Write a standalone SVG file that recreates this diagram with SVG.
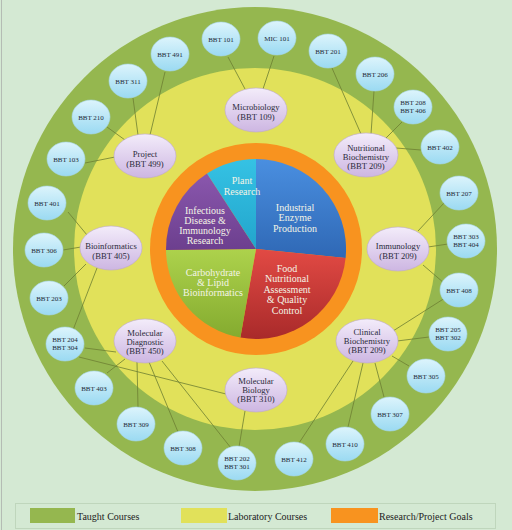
<svg xmlns="http://www.w3.org/2000/svg" width="512" height="530" viewBox="0 0 512 530">
<defs>
<linearGradient id="gBlue" x1="0" y1="0" x2="0" y2="1"><stop offset="0" stop-color="#dcf4fc"/><stop offset="1" stop-color="#9bdaf2"/></linearGradient>
<linearGradient id="gLab" x1="0" y1="0" x2="0" y2="1"><stop offset="0" stop-color="#f3ecfa"/><stop offset="1" stop-color="#cdb6e2"/></linearGradient>
<linearGradient id="pBlue" x1="0" y1="0" x2="0" y2="1"><stop offset="0" stop-color="#4a8fe0"/><stop offset="1" stop-color="#2f68b5"/></linearGradient>
<linearGradient id="pRed" x1="0" y1="0" x2="0" y2="1"><stop offset="0" stop-color="#e24a44"/><stop offset="1" stop-color="#a92a2a"/></linearGradient>
<linearGradient id="pGreen" x1="0" y1="0" x2="0" y2="1"><stop offset="0" stop-color="#add24c"/><stop offset="1" stop-color="#84ab2f"/></linearGradient>
<linearGradient id="pPurple" x1="0" y1="0" x2="0" y2="1"><stop offset="0" stop-color="#8a57ad"/><stop offset="1" stop-color="#6c3f8e"/></linearGradient>
<linearGradient id="pCyan" x1="0" y1="0" x2="0" y2="1"><stop offset="0" stop-color="#35c2e4"/><stop offset="1" stop-color="#22a5cc"/></linearGradient>
</defs>
<style>
.t{fill:url(#gBlue);stroke:#a6d6ea;stroke-width:0.6}
.l{fill:url(#gLab);stroke:#bca6d4;stroke-width:0.6}
.tt{font-family:"Liberation Serif","DejaVu Serif",serif;font-size:7px;fill:#1e2a38;text-anchor:middle}
.lt{font-family:"Liberation Serif","DejaVu Serif",serif;font-size:8.6px;fill:#2a2a3a;text-anchor:middle}
.pt{font-family:"Liberation Serif","DejaVu Serif",serif;font-size:10px;fill:#f4f4e6;text-anchor:middle}
.gt{font-family:"Liberation Serif","DejaVu Serif",serif;font-size:10px;fill:#222;}
.c{stroke:#6d7f32;stroke-width:0.8;fill:none}
</style>
<rect x="0" y="0" width="512" height="530" fill="#d4e9d3"/>
<line x1="1.5" y1="0" x2="1.5" y2="530" stroke="#b4bcb4" stroke-width="1"/>
<g id="rings">
<circle cx="255" cy="249" r="242" fill="#95b74f"/>
<circle cx="255" cy="249" r="181" fill="#e1e15a"/>
<circle cx="256" cy="249" r="106" fill="#f8931f"/>
</g>
<g id="pie">
<path d="M256,249 L256,159 A90,90 0 0 1 345.6,257.9 Z" fill="url(#pBlue)"/>
<path d="M256,249 L345.6,257.9 A90,90 0 0 1 240.4,337.6 Z" fill="url(#pRed)"/>
<path d="M256,249 L240.4,337.6 A90,90 0 0 1 166,250 Z" fill="url(#pGreen)"/>
<path d="M256,249 L166,250 A90,90 0 0 1 207,173.5 Z" fill="url(#pPurple)"/>
<path d="M256,249 L207,173.5 A90,90 0 0 1 256,159 Z" fill="url(#pCyan)"/>
<text class="pt"><tspan x="295" y="210.5">Industrial</tspan><tspan x="295" y="221">Enzyme</tspan><tspan x="295" y="231.5">Production</tspan></text>
<text class="pt"><tspan x="242" y="183.5">Plant</tspan><tspan x="242" y="194.5">Research</tspan></text>
<text class="pt"><tspan x="205" y="213.5">Infectious</tspan><tspan x="205" y="223.5">Disease &amp;</tspan><tspan x="205" y="233.5">Immunology</tspan><tspan x="205" y="243.5">Research</tspan></text>
<text class="pt"><tspan x="213" y="275.5">Carbohydrate</tspan><tspan x="213" y="285.5">&amp; Lipid</tspan><tspan x="213" y="295.5">Bioinformatics</tspan></text>
<text class="pt"><tspan x="287" y="271.5">Food</tspan><tspan x="287" y="282">Nutritional</tspan><tspan x="287" y="292.5">Assessment</tspan><tspan x="287" y="303">&amp; Quality</tspan><tspan x="287" y="313.5">Control</tspan></text>
</g>
<g id="connectors">
<line class="c" x1="228" y1="57" x2="245" y2="89"/>
<line class="c" x1="274" y1="56" x2="263" y2="89"/>
<line class="c" x1="165" y1="72" x2="150" y2="135"/>
<line class="c" x1="133" y1="98" x2="138" y2="135"/>
<line class="c" x1="107" y1="127" x2="125" y2="140"/>
<line class="c" x1="85" y1="163" x2="115" y2="157"/>
<line class="c" x1="332" y1="68" x2="361" y2="134"/>
<line class="c" x1="374" y1="91" x2="371" y2="134"/>
<line class="c" x1="402" y1="122" x2="386" y2="138"/>
<line class="c" x1="421" y1="150" x2="396" y2="148"/>
<line class="c" x1="68" y1="212" x2="87" y2="235"/>
<line class="c" x1="63" y1="250" x2="81" y2="247"/>
<line class="c" x1="64" y1="286" x2="86" y2="264"/>
<line class="c" x1="73" y1="330" x2="97" y2="268"/>
<line class="c" x1="444" y1="203" x2="418" y2="231"/>
<line class="c" x1="448" y1="244" x2="428" y2="247"/>
<line class="c" x1="444" y1="283" x2="423" y2="265"/>
<line class="c" x1="445" y1="298" x2="393" y2="331"/>
<line class="c" x1="429" y1="337" x2="397" y2="341"/>
<line class="c" x1="409" y1="366" x2="392" y2="356"/>
<line class="c" x1="384" y1="397" x2="375" y2="363"/>
<line class="c" x1="348" y1="427" x2="363" y2="363"/>
<line class="c" x1="299" y1="443" x2="353" y2="361"/>
<line class="c" x1="85" y1="348" x2="116" y2="352"/>
<line class="c" x1="79" y1="357" x2="226" y2="394"/>
<line class="c" x1="107" y1="373" x2="125" y2="359"/>
<line class="c" x1="138" y1="407" x2="137" y2="362"/>
<line class="c" x1="178" y1="432" x2="149" y2="362"/>
<line class="c" x1="231" y1="448" x2="162" y2="361"/>
<line class="c" x1="239" y1="447" x2="245" y2="411"/>
</g>
<g id="lab-microbiology"><ellipse class="l" cx="256" cy="110" rx="31" ry="22"/><text class="lt"><tspan x="256" y="110">Microbiology</tspan><tspan x="256" y="119.5">(BBT 109)</tspan></text></g>
<g id="lab-project"><ellipse class="l" cx="145" cy="156" rx="31" ry="22"/><text class="lt"><tspan x="145" y="157">Project</tspan><tspan x="145" y="166.5">(BBT 499)</tspan></text></g>
<g id="lab-nutritional"><ellipse class="l" cx="366" cy="155" rx="32" ry="22"/><text class="lt"><tspan x="366" y="151">Nutritional</tspan><tspan x="366" y="160">Biochemistry</tspan><tspan x="366" y="169">(BBT 209)</tspan></text></g>
<g id="lab-bioinformatics"><ellipse class="l" cx="111" cy="248" rx="31" ry="22"/><text class="lt"><tspan x="111" y="249">Bioinformatics</tspan><tspan x="111" y="258.5">(BBT 405)</tspan></text></g>
<g id="lab-immunology"><ellipse class="l" cx="398" cy="249" rx="31" ry="22"/><text class="lt"><tspan x="398" y="249">Immunology</tspan><tspan x="398" y="258.5">(BBT 209)</tspan></text></g>
<g id="lab-moldiag"><ellipse class="l" cx="145" cy="341" rx="31" ry="22"/><text class="lt"><tspan x="145" y="336">Molecular</tspan><tspan x="145" y="345">Diagnostic</tspan><tspan x="145" y="354">(BBT 450)</tspan></text></g>
<g id="lab-clinical"><ellipse class="l" cx="367" cy="341" rx="31" ry="22"/><text class="lt"><tspan x="367" y="335">Clinical</tspan><tspan x="367" y="344">Biochemistry</tspan><tspan x="367" y="353">(BBT 209)</tspan></text></g>
<g id="lab-molbio"><ellipse class="l" cx="256" cy="390" rx="31" ry="22"/><text class="lt"><tspan x="256" y="384">Molecular</tspan><tspan x="256" y="393">Biology</tspan><tspan x="256" y="402">(BBT 310)</tspan></text></g>
<g id="bbt101"><ellipse class="t" cx="221" cy="39" rx="19" ry="17"/><text class="tt" x="221" y="41.5">BBT 101</text></g>
<g id="mic101"><ellipse class="t" cx="277" cy="38" rx="19" ry="17"/><text class="tt" x="277" y="40.5">MIC 101</text></g>
<g id="bbt491"><ellipse class="t" cx="170" cy="54" rx="19" ry="17"/><text class="tt" x="170" y="56.5">BBT 491</text></g>
<g id="bbt311"><ellipse class="t" cx="128" cy="81" rx="19" ry="17"/><text class="tt" x="128" y="83.5">BBT 311</text></g>
<g id="bbt210"><ellipse class="t" cx="91" cy="117" rx="19" ry="17"/><text class="tt" x="91" y="119.5">BBT 210</text></g>
<g id="bbt103"><ellipse class="t" cx="66" cy="159" rx="19" ry="17"/><text class="tt" x="66" y="161.5">BBT 103</text></g>
<g id="bbt201"><ellipse class="t" cx="328" cy="51" rx="19" ry="17"/><text class="tt" x="328" y="53.5">BBT 201</text></g>
<g id="bbt206"><ellipse class="t" cx="375" cy="74" rx="19" ry="17"/><text class="tt" x="375" y="76.5">BBT 206</text></g>
<g id="bbt208"><ellipse class="t" cx="413" cy="107" rx="19" ry="17"/><text class="tt"><tspan x="413" y="105">BBT 208</tspan><tspan x="413" y="113">BBT 406</tspan></text></g>
<g id="bbt402"><ellipse class="t" cx="440" cy="147" rx="19" ry="17"/><text class="tt" x="440" y="149.5">BBT 402</text></g>
<g id="bbt401"><ellipse class="t" cx="47" cy="203" rx="19" ry="17"/><text class="tt" x="47" y="205.5">BBT 401</text></g>
<g id="bbt306"><ellipse class="t" cx="44" cy="250" rx="19" ry="17"/><text class="tt" x="44" y="252.5">BBT 306</text></g>
<g id="bbt203"><ellipse class="t" cx="49" cy="298" rx="19" ry="17"/><text class="tt" x="49" y="300.5">BBT 203</text></g>
<g id="bbt204"><ellipse class="t" cx="65" cy="344" rx="19" ry="17"/><text class="tt"><tspan x="65" y="342">BBT 204</tspan><tspan x="65" y="350">BBT 304</tspan></text></g>
<g id="bbt207"><ellipse class="t" cx="459" cy="193" rx="19" ry="17"/><text class="tt" x="459" y="195.5">BBT 207</text></g>
<g id="bbt303"><ellipse class="t" cx="466" cy="241" rx="19" ry="17"/><text class="tt"><tspan x="466" y="239">BBT 303</tspan><tspan x="466" y="247">BBT 404</tspan></text></g>
<g id="bbt408"><ellipse class="t" cx="459" cy="290" rx="19" ry="17"/><text class="tt" x="459" y="292.5">BBT 408</text></g>
<g id="bbt205"><ellipse class="t" cx="448" cy="334" rx="19" ry="17"/><text class="tt"><tspan x="448" y="332">BBT 205</tspan><tspan x="448" y="340">BBT 302</tspan></text></g>
<g id="bbt403"><ellipse class="t" cx="94" cy="388" rx="19" ry="17"/><text class="tt" x="94" y="390.5">BBT 403</text></g>
<g id="bbt309"><ellipse class="t" cx="136" cy="424" rx="19" ry="17"/><text class="tt" x="136" y="426.5">BBT 309</text></g>
<g id="bbt308"><ellipse class="t" cx="183" cy="448" rx="19" ry="17"/><text class="tt" x="183" y="450.5">BBT 308</text></g>
<g id="bbt202"><ellipse class="t" cx="237" cy="463" rx="19" ry="17"/><text class="tt"><tspan x="237" y="461">BBT 202</tspan><tspan x="237" y="469">BBT 301</tspan></text></g>
<g id="bbt305"><ellipse class="t" cx="426" cy="376" rx="19" ry="17"/><text class="tt" x="426" y="378.5">BBT 305</text></g>
<g id="bbt307"><ellipse class="t" cx="390" cy="414" rx="19" ry="17"/><text class="tt" x="390" y="416.5">BBT 307</text></g>
<g id="bbt410"><ellipse class="t" cx="345" cy="444" rx="19" ry="17"/><text class="tt" x="345" y="446.5">BBT 410</text></g>
<g id="bbt412"><ellipse class="t" cx="294" cy="459" rx="19" ry="17"/><text class="tt" x="294" y="461.5">BBT 412</text></g>
<g id="legend">
<rect x="15.5" y="503.5" width="480" height="25" fill="none" stroke="#bfd6bc" stroke-width="1"/>
<rect x="30" y="508" width="45" height="15" fill="#95b74f"/>
<text class="gt" x="77" y="520">Taught Courses</text>
<rect x="181" y="508" width="46" height="15" fill="#e1e15a"/>
<text class="gt" x="228" y="520">Laboratory Courses</text>
<rect x="331" y="508" width="47" height="15" fill="#f8931f"/>
<text class="gt" x="379" y="520">Research/Project Goals</text>
</g>
</svg>
